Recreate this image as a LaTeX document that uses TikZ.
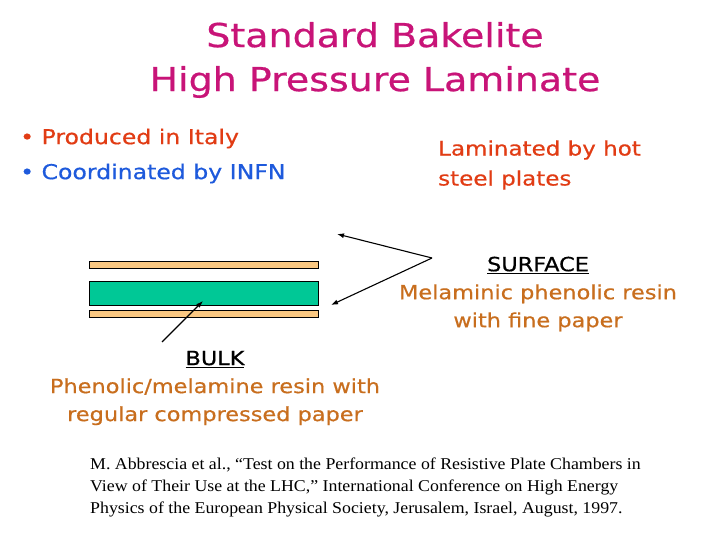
\documentclass[tikz,border=0pt]{standalone}
\usepackage{fontspec}
\setmainfont{DejaVu Sans}[FakeStretch=1.15,FakeBold=0.6]
\newfontfamily\refont{Liberation Serif}[FakeStretch=1.08]
\definecolor{titlec}{RGB}{200,20,120}
\definecolor{redt}{RGB}{225,60,20}
\definecolor{bluet}{RGB}{30,90,220}
\definecolor{brownt}{RGB}{200,110,30}
\definecolor{orangel}{RGB}{250,200,130}
\definecolor{greenl}{RGB}{0,200,150}
\tikzset{layer/.style={draw=black,line width=0.6pt},
  arr/.style={-{Latex[length=7pt,width=5pt]},line width=1.1pt},
  lbl/.style={align=center,inner sep=0pt}}
\usetikzlibrary{arrows.meta}
\begin{document}
\begin{tikzpicture}[x=1pt,y=-1pt]
\useasboundingbox (0,0) rectangle (720,540);
\node[lbl,text=titlec,font=\fontsize{33}{44}\selectfont] (title) at (375,60) {Standard Bakelite\\High Pressure Laminate};
\node[lbl,anchor=west,align=left,font=\fontsize{20.5}{35}\selectfont] (bul) at (20,156)
 {\textcolor{redt}{\textbullet\ Produced in Italy}\\\textcolor{bluet}{\textbullet\ Coordinated by INFN}};
\node[lbl,anchor=west,align=left,text=redt,font=\fontsize{20}{30}\selectfont] (lam) at (438,165) {Laminated by hot\\steel plates};
\node[layer,fill=orangel,minimum width=229pt,minimum height=7pt,inner sep=0pt] (top) at (203.5,265) {};
\node[layer,fill=greenl,minimum width=229pt,minimum height=24pt,inner sep=0pt] (mid) at (203.5,293) {};
\node[layer,fill=orangel,minimum width=229pt,minimum height=7pt,inner sep=0pt] (bot) at (203.5,314) {};
\node[lbl,font=\fontsize{19.5}{28}\selectfont] (surf) at (538,294) {\underline{SURFACE}\\\textcolor{brownt}{Melaminic phenolic resin}\\\textcolor{brownt}{with fine paper}};
\node[lbl,font=\fontsize{19.5}{28}\selectfont] (bulk) at (215,388) {\underline{BULK}\\\textcolor{brownt}{Phenolic/melamine resin with}\\\textcolor{brownt}{regular compressed paper}};
\coordinate (apex) at (432,258);
\coordinate (bt) at (162,342);
\coordinate (a1) at (337,234);
\coordinate (a2) at (331,305);
\coordinate (a3) at (203,301);
\draw[arr] (apex) -- (a1);
\draw[arr] (apex) -- (a2);
\draw[arr] (bt) -- (a3);
\node[lbl,anchor=west,align=left,font=\refont\fontsize{16.5}{22}\selectfont] (ref) at (90,487)
 {M. Abbrescia et al., “Test on the Performance of Resistive Plate Chambers in\\View of Their Use at the LHC,” International Conference on High Energy\\Physics of the European Physical Society, Jerusalem, Israel, August, 1997.};
\end{tikzpicture}
\end{document}
